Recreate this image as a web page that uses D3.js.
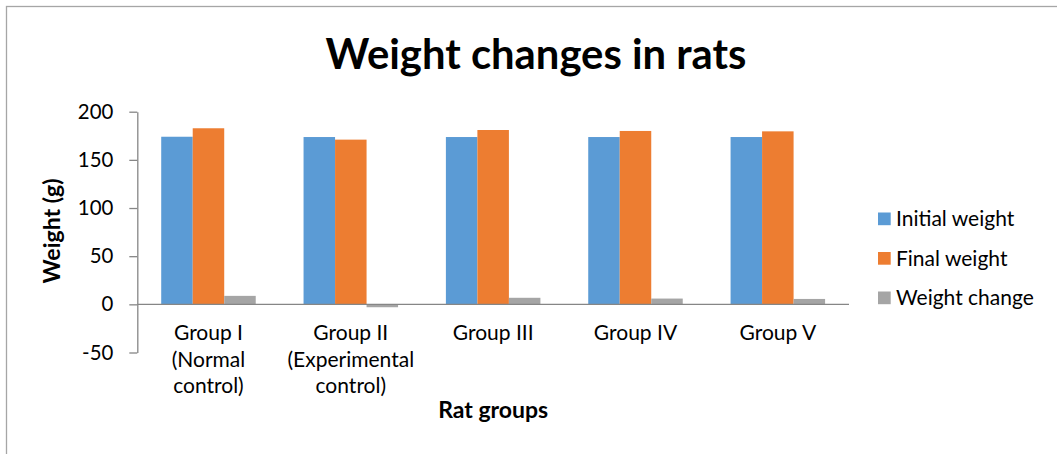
<!DOCTYPE html>
<html>
<head>
<meta charset="utf-8">
<script src="https://cdn.jsdelivr.net/npm/d3@7"></script>
<style>
  html, body { margin: 0; padding: 0; background: #fff; overflow: hidden; }
  svg { display: block; }
</style>
</head>
<body>
<svg id="chart" width="1057" height="454"></svg>
<script>
// ---- data ----
const groupLines = [
  ["Group I", "(Normal", "control)"],
  ["Group II", "(Experimental", "control)"],
  ["Group III"],
  ["Group IV"],
  ["Group V"]
];
const groups = ["Group I", "Group II", "Group III", "Group IV", "Group V"];
const seriesNames = ["Initial weight", "Final weight", "Weight change"];
const initialWeight = [174.0, 173.7, 173.7, 173.7, 173.7];
const finalWeight = [182.8, 171.0, 181.0, 180.0, 179.6];
const weightChange = [8.8, -3.0, 6.8, 6.0, 5.6];
const yTicks = [-50, 0, 50, 100, 150, 200];
const yTickLabels = ["-50", "0", "50", "100", "150", "200"];
const colors = ["#5B9BD5", "#ED7D31", "#A5A5A5"];

const seriesValues = [initialWeight, finalWeight, weightChange];

const FONT = "Lato, 'Open Sans', sans-serif";
const svg = d3.select("#chart");

// helper: font size so that text has a given width
function fitSize(text, weight, target) {
  const t = svg.append("text").attr("font-family", FONT).attr("font-weight", weight)
    .attr("font-size", 100).text(text);
  const w = t.node().getComputedTextLength();
  t.remove();
  return 100 * target / w;
}

const regSize = fitSize("(Experimental", "normal", 126.7);
const tickSize = fitSize("200", "normal", 35.5);
const titleSize = fitSize("Weight changes in rats", "bold", 421);
const axTitleSize = fitSize("Rat groups", "bold", 110);
const yTitleSize = fitSize("Weight (g)", "bold", 105);

// chart border
svg.append("rect").attr("x", 6.5).attr("y", 6.5).attr("width", 1200).attr("height", 600)
  .attr("fill", "none").attr("stroke", "#A6A6A6").attr("stroke-width", 1.3);

const left = 137.3, right = 849;
const y = d3.scaleLinear().domain([-50, 200]).range([352.5, 111.7]);
const x0 = d3.scaleBand().domain(groups).range([left, right])
  .paddingInner(0.336).paddingOuter(0.168);
const x1 = d3.scaleBand().domain(seriesNames).range([0, x0.bandwidth()]);

// bars
seriesNames.forEach((s, si) => {
  svg.append("g").selectAll("rect").data(groups).join("rect")
    .attr("x", g => x0(g) + x1(s))
    .attr("width", x1.bandwidth())
    .attr("y", (g, i) => y(Math.max(0, seriesValues[si][i])))
    .attr("height", (g, i) => Math.abs(y(seriesValues[si][i]) - y(0)))
    .attr("fill", colors[si]);
});

// y axis
const yAxis = svg.append("g").attr("transform", `translate(${left},0)`)
  .call(d3.axisLeft(y).tickValues(yTicks).tickSize(8).tickPadding(16).tickSizeOuter(0)
    .tickFormat((d, i) => yTickLabels[i]));
yAxis.select(".domain").attr("stroke", "#868686").attr("stroke-width", 1.3);
yAxis.selectAll(".tick line").attr("stroke", "#868686").attr("stroke-width", 1.3);
yAxis.selectAll(".tick text").attr("font-family", FONT).attr("font-size", tickSize)
  .attr("fill", "#000");

// x axis at zero
svg.append("line").attr("x1", left).attr("x2", right).attr("y1", y(0)).attr("y2", y(0))
  .attr("stroke", "#868686").attr("stroke-width", 1.3);

// category labels
const lineH = 26.7;
groups.forEach((g, i) => {
  const t = svg.append("text").attr("font-family", FONT).attr("font-size", regSize)
    .attr("text-anchor", "middle").attr("fill", "#000");
  groupLines[i].forEach((ln, j) => {
    t.append("tspan").attr("x", x0(g) + x0.bandwidth() / 2).attr("y", 340 + j * lineH).text(ln);
  });
});

// title
svg.append("text").attr("x", 536).attr("y", 69).attr("text-anchor", "middle")
  .attr("font-family", FONT).attr("font-weight", "bold").attr("font-size", titleSize)
  .attr("fill", "#000").text("Weight changes in rats");

// axis titles
svg.append("text").attr("x", (left + right) / 2).attr("y", 418).attr("text-anchor", "middle")
  .attr("font-family", FONT).attr("font-weight", "bold").attr("font-size", axTitleSize)
  .attr("fill", "#000").text("Rat groups");
svg.append("text").attr("transform", "translate(60,231) rotate(-90)").attr("text-anchor", "middle")
  .attr("font-family", FONT).attr("font-weight", "bold").attr("font-size", yTitleSize)
  .attr("fill", "#000").text("Weight (g)");

// legend
const legY = d3.scalePoint().domain(seriesNames).range([218.8, 297.8]);
const leg = svg.append("g");
seriesNames.forEach((s, i) => {
  leg.append("rect").attr("x", 878).attr("y", legY(s) - 6.3).attr("width", 12.7).attr("height", 12.7)
    .attr("fill", colors[i]);
  leg.append("text").attr("x", 896).attr("y", legY(s) + 7.3)
    .attr("font-family", FONT).attr("font-size", regSize).attr("fill", "#000").text(s);
});
</script>
</body>
</html>
